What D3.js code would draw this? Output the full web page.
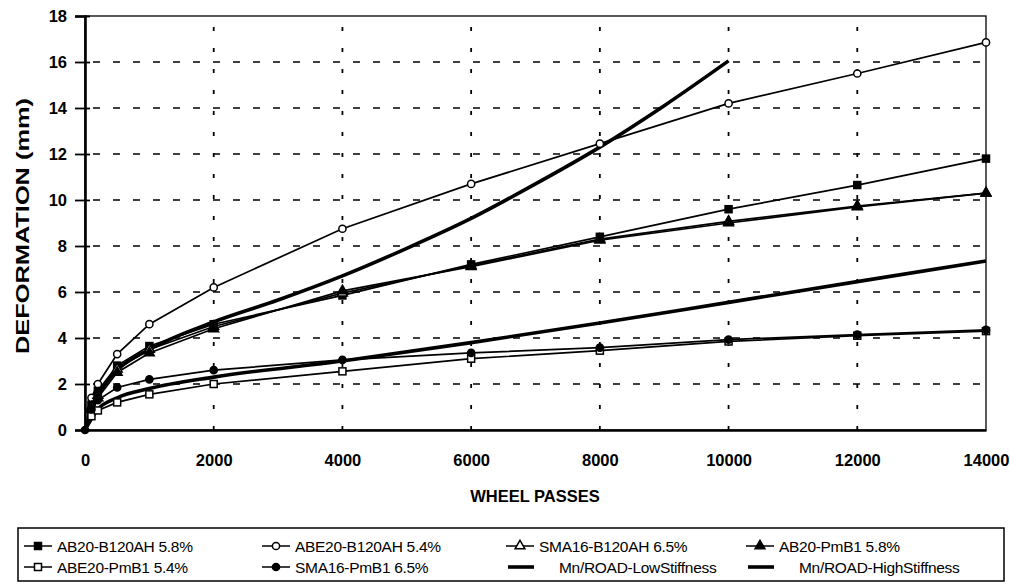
<!DOCTYPE html>
<html>
<head>
<meta charset="utf-8">
<script src="https://cdn.jsdelivr.net/npm/d3@7"></script>
<style>
  html, body { margin: 0; padding: 0; background: #fff; }
  svg { display: block; }
  .tick text { font-family: "Liberation Sans", Arial, sans-serif; font-weight: bold; font-size: 16.5px; fill: #000; }
</style>
</head>
<body>
<svg id="chart" width="1010" height="584"></svg>
<script>
// ---- data ----
const passes = [0, 100, 200, 500, 1000, 2000, 4000, 6000, 8000, 10000, 12000, 14000];
const AB20_B120AH  = [0, 1.1, 1.7, 2.8, 3.65, 4.6, 5.85, 7.2, 8.4, 9.6, 10.65, 11.8];
const ABE20_B120AH = [0, 1.4, 2.0, 3.3, 4.6, 6.2, 8.75, 10.7, 12.45, 14.2, 15.5, 16.85];
const SMA16_B120AH = [0, 1.0, 1.5, 2.65, 3.5, 4.5, 5.95, 7.15, 8.3, 9.07, 9.74, 10.3];
const AB20_PmB1    = [0, 0.9, 1.4, 2.5, 3.35, 4.4, 6.05, 7.1, 8.25, 9.0, 9.7, 10.3];
const ABE20_PmB1   = [0, 0.6, 0.85, 1.2, 1.55, 2.0, 2.55, 3.1, 3.45, 3.85, 4.1, 4.3];
const SMA16_PmB1   = [0, 0.9, 1.3, 1.85, 2.2, 2.6, 3.05, 3.35, 3.58, 3.93, 4.15, 4.35];

const lowPasses = [0, 200, 500, 1000, 2000, 3000, 4000, 5000, 6000, 7000, 8000, 9000, 10000];
const lowStiff  = [0, 1.5, 2.6, 3.5, 4.7, 5.65, 6.7, 7.9, 9.2, 10.7, 12.3, 14.1, 16.05];
const highPasses = [0, 200, 500, 1000, 2000, 4000, 6000, 8000, 10000, 12000, 14000];
const highStiff  = [0, 0.9, 1.4, 1.8, 2.3, 3.0, 3.8, 4.65, 5.55, 6.45, 7.35];

const xTicks = [0, 2000, 4000, 6000, 8000, 10000, 12000, 14000];
const yTicks = [0, 2, 4, 6, 8, 10, 12, 14, 16, 18];

const seriesNames = ["AB20-B120AH 5.8%", "ABE20-B120AH 5.4%", "SMA16-B120AH 6.5%", "AB20-PmB1 5.8%",
                     "ABE20-PmB1 5.4%", "SMA16-PmB1 6.5%", "Mn/ROAD-LowStiffness", "Mn/ROAD-HighStiffness"];
const markerTypes = ["squareFill", "circleOpen", "triangleOpen", "triangleFill", "squareOpen", "circleFill", "heavy", "heavy"];

// ---- build ----
const svg = d3.select("#chart");
const X0 = 85, X1 = 986, Y0 = 430, Y1 = 16;
const x = d3.scaleLinear().domain([0, 14000]).range([X0, X1]);
const y = d3.scaleLinear().domain([0, 18]).range([Y0, Y1]);

// gridlines
const grid = svg.append("g");
grid.selectAll("line.h").data(yTicks.filter(d => d > 0 && d < 18)).enter().append("line")
  .attr("x1", X0).attr("x2", X1).attr("y1", d => y(d)).attr("y2", d => y(d))
  .attr("stroke", "#000").attr("stroke-width", 1.6).attr("stroke-dasharray", "7,13").attr("stroke-dashoffset", -8);
grid.selectAll("line.v").data(xTicks.filter(d => d > 0 && d < 14000)).enter().append("line")
  .attr("x1", d => x(d)).attr("x2", d => x(d)).attr("y1", Y0).attr("y2", Y1)
  .attr("stroke", "#000").attr("stroke-width", 1.8).attr("stroke-dasharray", "4,17");

// frame
svg.append("rect").attr("x", X0).attr("y", Y1).attr("width", X1 - X0).attr("height", Y0 - Y1)
  .attr("fill", "none").attr("stroke", "#000").attr("stroke-width", 1.3);

// axes
const yAxis = d3.axisLeft(y).tickValues(yTicks).tickSize(10).tickPadding(8).tickFormat(d3.format("d"));
const gy = svg.append("g").attr("transform", `translate(${X0},0)`).call(yAxis);
gy.select(".domain").attr("stroke-width", 2.6);
gy.selectAll(".tick line").attr("stroke-width", 1.8).attr("x2", 5).attr("x1", -10);

const xAxis = d3.axisBottom(x).tickValues(xTicks).tickSize(0).tickPadding(24).tickFormat(d3.format("d"));
const gx = svg.append("g").attr("transform", `translate(0,${Y0})`).call(xAxis);
gx.select(".domain").attr("stroke-width", 2.6);

// axis titles
svg.append("text").attr("transform", `translate(29,${(Y0 + Y1) / 2 + 3}) rotate(-90)`)
  .attr("text-anchor", "middle").attr("font-family", "Liberation Sans, Arial, sans-serif")
  .attr("font-weight", "bold").attr("font-size", 18)
  .attr("textLength", 256).attr("lengthAdjust", "spacingAndGlyphs").text("DEFORMATION (mm)");
svg.append("text").attr("x", 535).attr("y", 502)
  .attr("text-anchor", "middle").attr("font-family", "Liberation Sans, Arial, sans-serif")
  .attr("font-weight", "bold").attr("font-size", 16.5).text("WHEEL PASSES");

// lines
const line = d3.line().x(d => x(d[0])).y(d => y(d[1]));
const smooth = d3.line().x(d => x(d[0])).y(d => y(d[1])).curve(d3.curveMonotoneX);
const marked = [AB20_B120AH, ABE20_B120AH, SMA16_B120AH, AB20_PmB1, ABE20_PmB1, SMA16_PmB1];
const plot = svg.append("g");

plot.append("path").datum(highPasses.map((p, i) => [p, highStiff[i]]))
  .attr("d", smooth).attr("fill", "none").attr("stroke", "#000").attr("stroke-width", 3.6);
plot.append("path").datum(lowPasses.map((p, i) => [p, lowStiff[i]]))
  .attr("d", smooth).attr("fill", "none").attr("stroke", "#000").attr("stroke-width", 3.6);

function drawMarker(g, type, cx, cy) {
  const filled = type.endsWith("Fill");
  const fill = filled ? "#000" : "#fff";
  if (type.startsWith("square")) {
    g.append("rect").attr("x", cx - 3.5).attr("y", cy - 3.5).attr("width", 7).attr("height", 7)
      .attr("fill", fill).attr("stroke", "#000").attr("stroke-width", 1.5);
  } else if (type.startsWith("circle")) {
    g.append("circle").attr("cx", cx).attr("cy", cy).attr("r", 3.6)
      .attr("fill", fill).attr("stroke", "#000").attr("stroke-width", 1.5);
  } else if (type.startsWith("triangle")) {
    g.append("path").attr("d", d3.symbol().type(d3.symbolTriangle).size(42)())
      .attr("transform", `translate(${cx},${cy})`)
      .attr("fill", fill).attr("stroke", "#000").attr("stroke-width", 1.5);
  }
}

marked.forEach((vals, si) => {
  const pts = passes.map((p, i) => [p, vals[i]]).filter(d => d[1] != null);
  plot.append("path").datum(pts).attr("d", line).attr("fill", "none").attr("stroke", "#000").attr("stroke-width", 1.7);
});
marked.forEach((vals, si) => {
  const g = plot.append("g");
  passes.forEach((p, i) => { if (vals[i] != null && p > 0) drawMarker(g, markerTypes[si], x(p), y(vals[i])); });
});
drawMarker(plot.append("g"), "circleFill", x(0), y(0));

// legend
const L = svg.append("g");
L.append("rect").attr("x", 18).attr("y", 528).attr("width", 986).attr("height", 53)
  .attr("fill", "none").attr("stroke", "#000").attr("stroke-width", 1.5);
const colX = [24, 262, 506, 746];
const rowY = [546, 567];
seriesNames.forEach((name, i) => {
  const cx = colX[i % 4], cy = rowY[Math.floor(i / 4)];
  const t = markerTypes[i];
  let tx;
  if (t === "heavy") {
    L.append("line").attr("x1", cx + 2).attr("x2", cx + 28).attr("y1", cy).attr("y2", cy)
      .attr("stroke", "#000").attr("stroke-width", 3.6);
    tx = cx + 53;
  } else {
    L.append("line").attr("x1", cx).attr("x2", cx + 28).attr("y1", cy).attr("y2", cy)
      .attr("stroke", "#000").attr("stroke-width", 1.5);
    drawMarker(L, t, cx + 14, cy);
    tx = cx + 33;
  }
  L.append("text").attr("x", tx).attr("y", cy + 5.5)
    .attr("font-family", "Liberation Sans, Arial, sans-serif")
    .attr("font-size", 15.5).attr("letter-spacing", -0.3).text(name);
});
</script>
</body>
</html>
